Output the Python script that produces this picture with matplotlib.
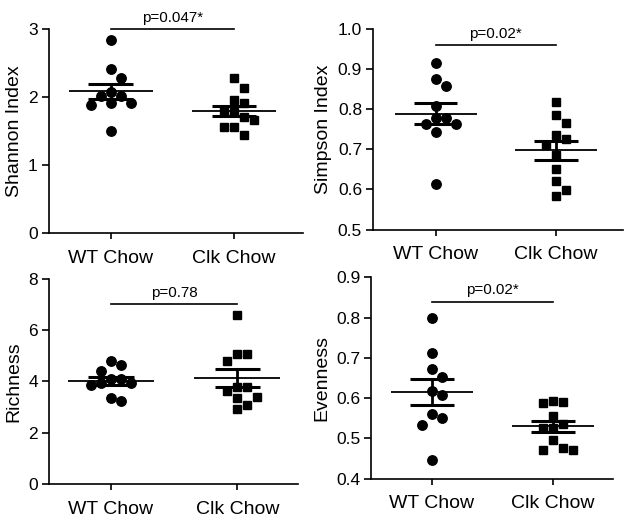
import numpy as np
import matplotlib
matplotlib.use('Agg')
import matplotlib.pyplot as plt

plt.rcParams['font.family'] = ['Liberation Sans', 'DejaVu Sans']

groups = ['WT Chow', 'Clk Chow']

shannon_wt = [2.85, 2.41, 2.29, 2.08, 2.02, 2.02, 1.91, 1.88, 1.91, 1.50]
shannon_clk = [2.28, 2.14, 1.96, 1.91, 1.80, 1.79, 1.71, 1.66, 1.57, 1.56, 1.44]
simpson_wt = [0.917, 0.876, 0.858, 0.808, 0.778, 0.778, 0.763, 0.763, 0.743, 0.613]
simpson_clk = [0.819, 0.787, 0.766, 0.735, 0.725, 0.711, 0.686, 0.651, 0.620, 0.599, 0.583]
richness_wt = [4.78, 4.65, 4.39, 4.10, 4.10, 3.94, 3.94, 3.85, 3.35, 3.22]
richness_clk = [6.60, 5.07, 5.07, 4.81, 3.78, 3.78, 3.62, 3.38, 3.35, 3.07, 2.92]
evenness_wt = [0.800, 0.713, 0.673, 0.653, 0.618, 0.607, 0.560, 0.551, 0.533, 0.446]
evenness_clk = [0.591, 0.587, 0.594, 0.556, 0.526, 0.526, 0.535, 0.496, 0.475, 0.471, 0.471]

ylabels = ['Shannon Index', 'Simpson Index', 'Richness', 'Evenness']
p_labels = ['p=0.047*', 'p=0.02*', 'p=0.78', 'p=0.02*']
p_heights = [3.0, 0.96, 7.0, 0.84]
yticks = [[0, 1, 2, 3],
          [0.5, 0.6, 0.7, 0.8, 0.9, 1.0],
          [0, 2, 4, 6, 8],
          [0.4, 0.5, 0.6, 0.7, 0.8, 0.9]]
ytick_fmt = ['%d', '%.1f', '%d', '%.1f']

panels = [(shannon_wt, shannon_clk), (simpson_wt, simpson_clk),
          (richness_wt, richness_clk), (evenness_wt, evenness_clk)]

# axes boxes in figure fraction, x limits per panel
boxes = [[0.0785, 0.555, 0.407, 0.389],
         [0.598, 0.562, 0.401, 0.382],
         [0.0785, 0.076, 0.399, 0.392],
         [0.595, 0.0865, 0.388, 0.384]]
xlims = [(-0.5, 1.56), (-0.52, 1.56), (-0.49, 1.48), (-0.5, 1.5)]


def swarm(ax, x0, vals, step_px=10, diam_px=11):
    # simple beeswarm: stack points sideways when they would overlap
    vals = np.asarray(vals)
    ypix = ax.transData.transform(np.column_stack([np.full(len(vals), x0), vals]))[:, 1]
    px_per_x = ax.transData.transform([[1, 0]])[0, 0] - ax.transData.transform([[0, 0]])[0, 0]
    cols = {}
    offs = np.zeros(len(vals))
    for i in np.argsort(-vals, kind='stable'):
        for k in [0, 1, -1, 2, -2, 3, -3]:
            placed = cols.get(k, [])
            if all(abs(ypix[i] - y) >= diam_px for y in placed):
                cols.setdefault(k, []).append(ypix[i])
                offs[i] = k
                break
    return x0 + offs * step_px / px_per_x


fig = plt.figure(figsize=(6.24, 5.24), dpi=100)

for n, (wt, clk) in enumerate(panels):
    ax = fig.add_axes(boxes[n])
    ax.set_xlim(*xlims[n])
    ax.set_ylim(yticks[n][0], yticks[n][-1])
    for s in ['top', 'right']:
        ax.spines[s].set_visible(False)
    for s in ['left', 'bottom']:
        ax.spines[s].set_linewidth(1.2)

    for x0, vals, mk, ms in [(0, wt, 'o', 6.8), (1, clk, 's', 6.0)]:
        xs = swarm(ax, x0, vals)
        ax.plot(xs, vals, linestyle='none', marker=mk, ms=ms, color='black', zorder=2)
        m = np.mean(vals)
        se = np.std(vals, ddof=1) / np.sqrt(len(vals))
        ax.hlines(m, x0 - 0.34, x0 + 0.34, color='black', lw=1.3, zorder=3)
        ax.hlines([m - se, m + se], x0 - 0.18, x0 + 0.18, color='black', lw=2.2, zorder=3)
        ax.vlines(x0, m - se, m + se, color='black', lw=2.0, zorder=3)

    ax.set_xticks([0, 1])
    ax.set_xticklabels(groups, fontsize=14)
    ax.set_yticks(yticks[n])
    ax.set_yticklabels([ytick_fmt[n] % t for t in yticks[n]], fontsize=12.5)
    ax.tick_params(axis='y', direction='out', length=5, width=1.2, pad=3)
    ax.tick_params(axis='x', direction='out', length=4, width=1.2, pad=8)
    ax.set_ylabel(ylabels[n], fontsize=14, labelpad=4)

    h = p_heights[n]
    ax.plot([0, 1], [h, h], color='black', lw=1.2, clip_on=False)
    ax.annotate(p_labels[n], xy=(0.5, h), xytext=(0, 3), textcoords='offset points',
                ha='center', va='bottom', fontsize=11, annotation_clip=False)

fig.savefig('out.png', dpi=100)
